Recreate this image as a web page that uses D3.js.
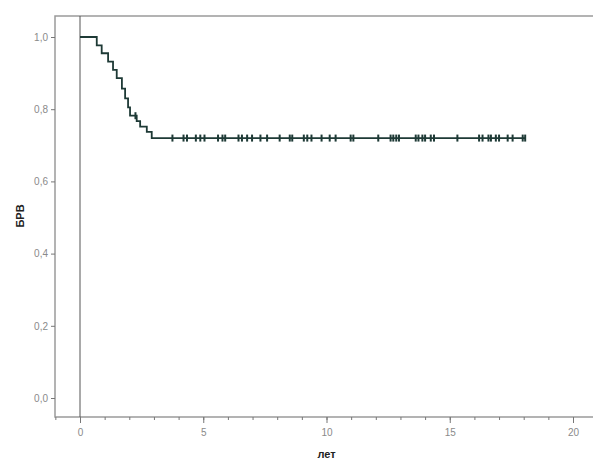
<!DOCTYPE html>
<html>
<head>
<meta charset="utf-8">
<script src="https://d3js.org/d3.v7.min.js"></script>
<style>
  body { margin: 0; background: #fff; }
  svg { display: block; }
</style>
</head>
<body>
<script>
// Kaplan-Meier steps: event times and survival after each drop
var eventTimes = [0.68, 0.88, 1.14, 1.34, 1.49, 1.70, 1.83, 1.95, 2.03, 2.30, 2.44, 2.71, 2.91];
var survival   = [0.977, 0.955, 0.932, 0.909, 0.886, 0.857, 0.830, 0.805, 0.782, 0.767, 0.752, 0.737, 0.720];
// censored observations (time)
var censorTimes = [2.25, 3.75, 4.20, 4.34, 4.70, 4.88, 5.05, 5.60, 5.78, 5.89, 6.43, 6.57, 6.78, 6.98,
                   7.32, 7.59, 8.10, 8.51, 8.61, 9.08, 9.22, 9.39, 9.80, 10.13, 10.37, 10.98, 11.09,
                   12.10, 12.60, 12.71, 12.83, 12.94, 13.62, 13.73, 13.89, 14.00, 14.23, 14.36, 15.31,
                   16.19, 16.33, 16.57, 16.67, 16.87, 17.00, 17.35, 17.55, 17.96, 18.06];
var lastTime = 18.06;
var yTicks = [0, 0.2, 0.4, 0.6, 0.8, 1.0];
var xMajor = [0, 5, 10, 15, 20];

var w = 593, h = 463;
var svg = d3.select("body").append("svg").attr("width", w).attr("height", h);

var x = d3.scaleLinear().domain([0, 20]).range([80, 573]);
var y = d3.scaleLinear().domain([0, 1]).range([398, 37]);

var frameL = 55, frameT = 16, frameB = 417;
var grey = "#9a9a9a", txt = "#8a8a8a";
var font = "Arial, 'Liberation Sans', sans-serif";

// frame
svg.append("path")
    .attr("d", "M" + w + "," + frameT + "H" + frameL + "V" + frameB + "H" + w)
    .attr("fill", "none").attr("stroke", grey).attr("stroke-width", 1.5);

// reference line at x = 0
svg.append("line")
    .attr("x1", x(0)).attr("x2", x(0)).attr("y1", frameT).attr("y2", frameB)
    .attr("stroke", "#555").attr("stroke-width", 1);

// y axis
var yAxis = d3.axisLeft(y).tickValues(yTicks).tickSize(4).tickPadding(3)
    .tickFormat(function(d) { return d3.format(".1f")(d).replace(".", ","); });
var gy = svg.append("g").attr("transform", "translate(" + frameL + ",0)").call(yAxis);
gy.select(".domain").remove();
gy.selectAll("line").attr("stroke", "#777");
gy.selectAll("text").attr("fill", txt).style("font-family", font).style("font-size", "10px");

// x axis: minor ticks each year, major every 5
var gxMinor = svg.append("g").attr("transform", "translate(0," + frameB + ")")
    .call(d3.axisBottom(x).tickValues(d3.range(-1, 22)).tickSize(3).tickFormat(""));
gxMinor.select(".domain").remove();
gxMinor.selectAll("line").attr("stroke", "#777");

var gx = svg.append("g").attr("transform", "translate(0," + frameB + ")")
    .call(d3.axisBottom(x).tickValues(xMajor).tickSize(6).tickPadding(6));
gx.select(".domain").remove();
gx.selectAll("line").attr("stroke", "#777");
gx.selectAll("text").attr("fill", txt).style("font-family", font).style("font-size", "10px");

// survival curve
var pts = [[0, 1]];
var prev = 1;
eventTimes.forEach(function(t, i) {
    pts.push([t, prev]);
    pts.push([t, survival[i]]);
    prev = survival[i];
});
pts.push([lastTime, prev]);

var curveColor = "#1e3a36";
svg.append("path")
    .datum(pts)
    .attr("d", d3.line().x(function(d) { return x(d[0]); }).y(function(d) { return y(d[1]); }))
    .attr("fill", "none").attr("stroke", curveColor).attr("stroke-width", 1.8);

// censor marks
function levelAt(t) {
    var s = 1;
    eventTimes.forEach(function(e, i) { if (e <= t) s = survival[i]; });
    return s;
}
svg.selectAll("line.censor")
    .data(censorTimes)
    .enter().append("line")
    .attr("class", "censor")
    .attr("x1", function(d) { return x(d); }).attr("x2", function(d) { return x(d); })
    .attr("y1", function(d) { return y(levelAt(d)) - 3.5; })
    .attr("y2", function(d) { return y(levelAt(d)) + 3.5; })
    .attr("stroke", curveColor).attr("stroke-width", 2);

// axis titles
svg.append("text")
    .attr("x", x(10)).attr("y", 458)
    .attr("text-anchor", "middle")
    .style("font-family", font).style("font-size", "11px").style("font-weight", "bold")
    .attr("fill", "#222")
    .text("лет");

svg.append("text")
    .attr("transform", "translate(24," + 216 + ") rotate(-90)")
    .attr("text-anchor", "middle")
    .style("font-family", font).style("font-size", "11px").style("font-weight", "bold")
    .attr("fill", "#222")
    .text("БРВ");
</script>
</body>
</html>
